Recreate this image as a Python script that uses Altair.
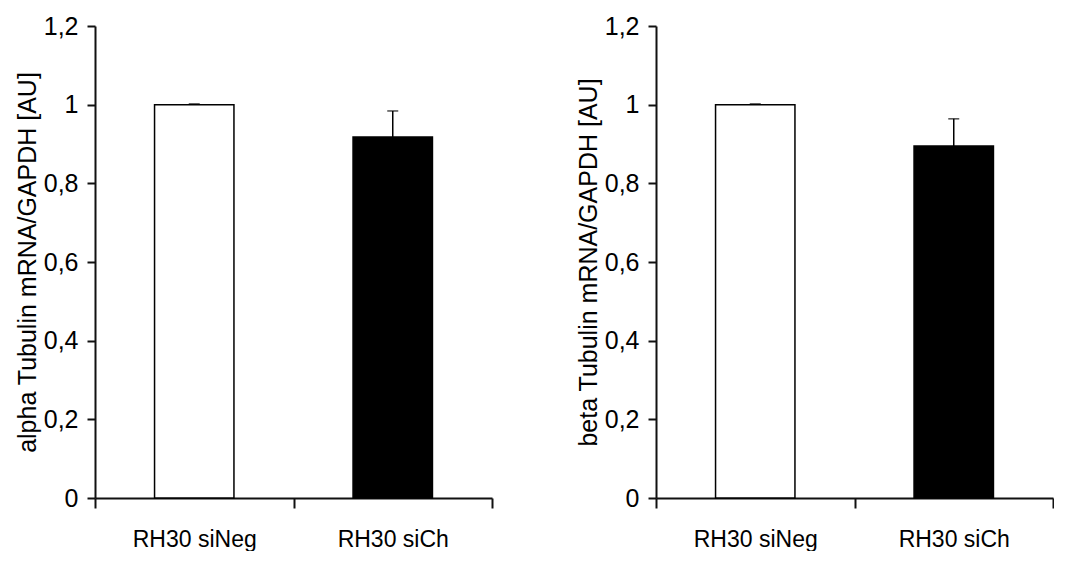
import altair as alt
import pandas as pd

categories = ["RH30 siNeg", "RH30 siCh"]
alpha_values = [1.0, 0.918]
alpha_errors = [0.002, 0.066]
beta_values = [1.0, 0.895]
beta_errors = [0.002, 0.069]
bar_colors = ["white", "black"]
y_ticks = [0, 0.2, 0.4, 0.6, 0.8, 1.0, 1.2]
titles = ["alpha Tubulin mRNA/GAPDH [AU]", "beta Tubulin mRNA/GAPDH [AU]"]

LABEL_FONT = "Liberation Sans"
TITLE_FONT = "Liberation Sans"


def panel(values, errors, title):
    df = pd.DataFrame({
        "cat": categories,
        "value": values,
        "upper": [v + e for v, e in zip(values, errors)],
        "color": bar_colors,
    })
    x_enc = alt.X(
        "cat:N", sort=categories,
        scale=alt.Scale(paddingInner=0, paddingOuter=0),
        axis=alt.Axis(title=None, tickBand="extent", tickSize=10, tickWidth=2,
                      tickColor="#111", domainColor="#111", domainWidth=2,
                      labelAngle=0, labelFont=LABEL_FONT, labelFontSize=23,
                      labelColor="black", labelPadding=20),
    )
    y_enc = alt.Y(
        "value:Q",
        scale=alt.Scale(domain=[0, 1.2], nice=False, zero=True),
        axis=alt.Axis(values=y_ticks, grid=False,
                      labelExpr="replace(toString(datum.value), '.', ',')",
                      title=title, titleFont=TITLE_FONT, titleFontSize=25,
                      titleFontWeight="normal", titleColor="black", titlePadding=3,
                      tickSize=8, tickWidth=2, tickColor="#111",
                      domainColor="#111", domainWidth=2,
                      labelFont=LABEL_FONT, labelFontSize=25, labelColor="black",
                      labelPadding=9),
    )
    bars = alt.Chart(df).mark_bar(width={"band": 0.4}, stroke="black", strokeWidth=1.5).encode(
        x=x_enc, y=y_enc, fill=alt.Fill("color:N", scale=None)
    )
    err = alt.Chart(df).mark_rule(color="black", strokeWidth=1.5).encode(
        x=alt.X("cat:N", sort=categories), y="value:Q", y2="upper:Q"
    )
    cap = alt.Chart(df).mark_tick(color="black", thickness=1.5, size=11, orient="horizontal").encode(
        x=alt.X("cat:N", sort=categories), y="upper:Q"
    )
    return alt.layer(bars, err, cap).properties(width=397, height=472)


left = panel(alpha_values, alpha_errors, titles[0])
right = panel(beta_values, beta_errors, titles[1])

chart = alt.hconcat(left, right, spacing=83).properties(
    padding={"left": 7, "top": 6, "right": 0, "bottom": 0}
).configure_view(stroke=None)

chart.save("out.html", embed_options={"renderer": "svg", "actions": False})
